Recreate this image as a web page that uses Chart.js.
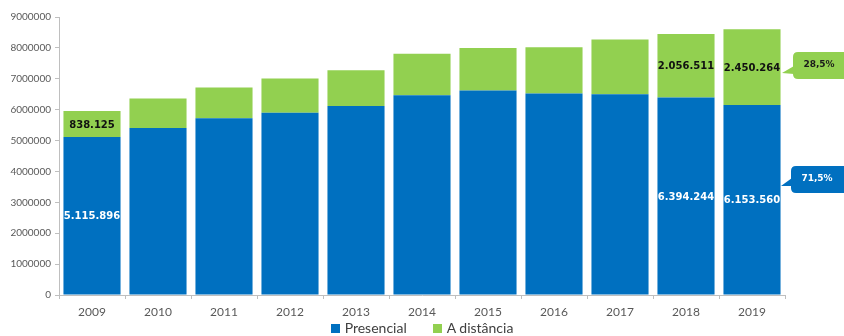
<!DOCTYPE html>
<html>
<head>
<meta charset="utf-8">
<script src="https://cdn.jsdelivr.net/npm/chart.js@4/dist/chart.umd.min.js"></script>
<style>
  html, body { margin: 0; padding: 0; background: #fff; }
  #wrap { position: relative; width: 844px; height: 336px; }
  #legend { position: absolute; left: 59px; width: 726px; top: 319px; height: 17px;
            text-align: center; font-family: Lato, sans-serif; font-size: 14px; color: #404040; line-height: 17px; white-space: nowrap; }
  #legend span.item { display: inline-block; margin: 0 13px; }
  #legend span.sw { display: inline-block; width: 9px; height: 9px; margin-right: 5px; vertical-align: 0px; }
</style>
</head>
<body>
<div id="wrap">
  <canvas id="c" width="844" height="336"></canvas>
  <div id="legend"></div>
</div>
<script>
const years = ['2009','2010','2011','2012','2013','2014','2015','2016','2017','2018','2019'];
const presencial = [5115896, 5410000, 5720000, 5900000, 6120000, 6470000, 6620000, 6520000, 6500000, 6394244, 6153560];
const distancia  = [838125, 950000, 1000000, 1110000, 1160000, 1340000, 1380000, 1500000, 1770000, 2056511, 2450264];
const labeledIdx = [0, 9, 10];
const seriesNames = ['Presencial', 'A distância'];
const shareLabels = ['71,5%', '28,5%'];
const yTicks = [0, 1000000, 2000000, 3000000, 4000000, 5000000, 6000000, 7000000, 8000000, 9000000];

const BLUE = '#0070C0';
const GREEN = '#92D050';

function fmt(v) { return String(v).replace(/\B(?=(\d{3})+(?!\d))/g, '.'); }

const valueLabels = {
  id: 'valueLabels',
  afterDatasetsDraw(chart) {
    const ctx = chart.ctx;
    ctx.save();
    ctx.font = 'bold 10px "DejaVu Sans"';
    ctx.textAlign = 'center';
    ctx.textBaseline = 'middle';
    chart.data.datasets.forEach((ds, di) => {
      const meta = chart.getDatasetMeta(di);
      labeledIdx.forEach(i => {
        const el = meta.data[i];
        if (!el) return;
        const y = (el.y + el.base) / 2;
        ctx.fillStyle = di === 0 ? '#ffffff' : '#111111';
        ctx.fillText(fmt(ds.data[i]), el.x, y + 1);
      });
    });
    ctx.restore();
  }
};

function roundRect(ctx, x, y, w, h, r) {
  ctx.moveTo(x + r, y);
  ctx.lineTo(x + w - r, y);
  ctx.quadraticCurveTo(x + w, y, x + w, y + r);
  ctx.lineTo(x + w, y + h - r);
  ctx.quadraticCurveTo(x + w, y + h, x + w - r, y + h);
  ctx.lineTo(x + r, y + h);
  ctx.quadraticCurveTo(x, y + h, x, y + h - r);
  ctx.lineTo(x, y + r);
  ctx.quadraticCurveTo(x, y, x + r, y);
}

const callouts = {
  id: 'callouts',
  afterDraw(chart) {
    const ctx = chart.ctx;
    const right = chart.chartArea.right;
    const items = [
      { fill: GREEN, text: shareLabels[1], color: '#1a1a1a', bx: right + 8, by: 52, bw: 70, bh: 27, tipX: right - 3, tipY: 73, a: 66, b: 74 },
      { fill: BLUE, text: shareLabels[0], color: '#ffffff', bx: right + 6, by: 166, bw: 70, bh: 27, tipX: right - 4, tipY: 186, a: 178, b: 186 }
    ];
    ctx.save();
    items.forEach(it => {
      ctx.fillStyle = it.fill;
      ctx.beginPath();
      roundRect(ctx, it.bx, it.by, it.bw, it.bh, 5);
      ctx.fill();
      ctx.beginPath();
      ctx.moveTo(it.bx + 1, it.a);
      ctx.lineTo(it.tipX, it.tipY);
      ctx.lineTo(it.bx + 1, it.b);
      ctx.closePath();
      ctx.fill();
      ctx.fillStyle = it.color;
      ctx.font = 'bold 9px "DejaVu Sans"';
      ctx.textAlign = 'center';
      ctx.textBaseline = 'middle';
      ctx.fillText(it.text, it.bx + 26, it.by + 13);
    });
    ctx.restore();
  }
};

Chart.defaults.font.family = 'Lato, sans-serif';

new Chart(document.getElementById('c'), {
  type: 'bar',
  data: {
    labels: years,
    datasets: [
      { label: seriesNames[0], data: presencial, backgroundColor: BLUE },
      { label: seriesNames[1], data: distancia, backgroundColor: GREEN }
    ]
  },
  options: {
    responsive: false,
    animation: false,
    layout: { padding: { left: 0, right: 59, top: 17, bottom: 0 } },
    datasets: { bar: { categoryPercentage: 1, barPercentage: 0.865 } },
    plugins: { legend: { display: false }, tooltip: { enabled: false } },
    scales: {
      x: {
        stacked: true,
        grid: { drawOnChartArea: false, drawTicks: true, tickLength: 4, color: '#bfbfbf', offset: true },
        border: { display: true, color: '#bfbfbf' },
        ticks: { color: '#595959', font: { size: 12 }, padding: 6, maxRotation: 0 },
        afterFit(s) { s.height = 41; }
      },
      y: {
        stacked: true,
        min: 0, max: 9000000,
        afterBuildTicks(s) { s.ticks = yTicks.map(v => ({ value: v })); },
        grid: { drawOnChartArea: false, drawTicks: true, tickLength: 4, color: '#bfbfbf' },
        border: { display: true, color: '#bfbfbf' },
        ticks: { color: '#595959', font: { size: 10 }, padding: 4, callback: v => String(v) },
        afterFit(s) { s.width = 59; }
      }
    }
  },
  plugins: [valueLabels, callouts]
});

const lg = document.getElementById('legend');
[BLUE, GREEN].forEach((c, i) => {
  const it = document.createElement('span');
  it.className = 'item';
  const sw = document.createElement('span');
  sw.className = 'sw';
  sw.style.background = c;
  it.appendChild(sw);
  it.appendChild(document.createTextNode(seriesNames[i]));
  lg.appendChild(it);
});
</script>
</body>
</html>
